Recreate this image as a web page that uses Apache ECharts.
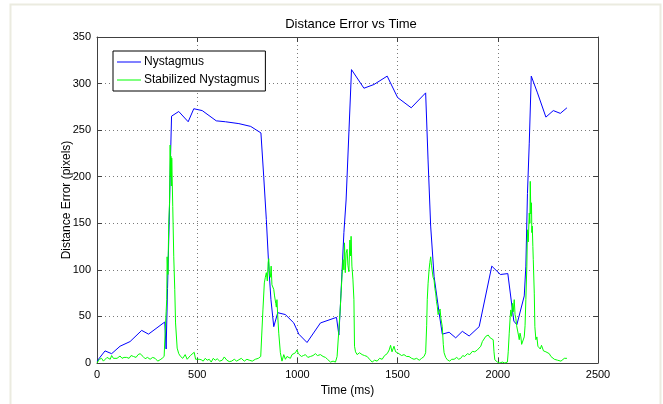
<!DOCTYPE html>
<html>
<head>
<meta charset="utf-8">
<script src="https://cdn.jsdelivr.net/npm/echarts@6/dist/echarts.min.js"></script>
<style>
    html, body { margin: 0; padding: 0; background: #fff; }
    #main { width: 663px; height: 404px; }
</style>
</head>
<body>
<div id="main"></div>
<script>
// 数据部分 [time ms, error px]
var nystagmus = [
    [0, 2], [40, 13], [73, 10], [115, 18], [165, 23], [223, 35], [257, 31], [338, 44], [345, 15], [352, 80],
    [360, 150], [367, 222], [372, 265], [408, 270], [455, 259], [483, 273], [525, 271], [595, 260], [641, 259], [708, 257],
    [767, 254], [818, 247], [832, 200], [845, 154], [857, 104], [868, 68], [882, 39], [890, 37], [902, 54], [940, 52],
    [982, 43], [1007, 31], [1048, 22], [1115, 43], [1195, 49], [1207, 30], [1215, 64], [1232, 140], [1243, 175], [1270, 315],
    [1332, 295], [1382, 299], [1448, 308], [1500, 285], [1568, 274], [1640, 290], [1652, 218], [1665, 147], [1682, 93], [1707, 54],
    [1723, 31], [1757, 33], [1790, 27], [1823, 34], [1857, 29], [1907, 39], [1970, 104], [2013, 95], [2050, 96], [2080, 45],
    [2095, 41], [2132, 72], [2140, 104], [2148, 182], [2157, 236], [2167, 308], [2198, 290], [2240, 264], [2277, 271], [2312, 268],
    [2345, 274]
];

var stabilized = [
    [0, 0], [12, 4], [23, 5], [32, 2], [40, 2], [50, 6], [57, 7], [66, 4], [73, 8], [82, 5],
    [90, 6.5], [100, 5], [115, 7.5], [125, 5], [135, 6], [148, 6], [160, 5], [170, 8], [182, 7], [195, 6],
    [205, 9], [215, 10], [223, 11.5], [230, 7], [240, 4.6], [252, 6], [265, 4], [278, 6], [290, 5], [303, 2],
    [315, 3.5], [325, 5], [335, 7], [340, 32], [345, 55], [348, 68], [350, 114], [354, 95], [358, 150], [362, 172],
    [365, 234], [367, 200], [369, 222], [371, 190], [373, 220], [375, 200], [378, 168], [383, 114], [388, 79], [392, 43],
    [400, 16], [408, 10], [417, 7], [428, 5], [440, 9], [450, 4], [458, 5], [466, 8], [475, 10], [485, 11.5],
    [492, 4], [500, 2], [510, 4], [520, 3.5], [530, 2], [540, 5], [550, 3], [560, 4], [570, 1], [580, 5],
    [590, 3], [600, 4.5], [612, 2], [625, 3], [635, 6.5], [648, 3], [660, 1.5], [672, 2], [685, 4], [697, 2],
    [708, 3.5], [720, 5], [735, 2], [748, 4], [760, 3], [775, 2], [790, 4], [805, 5], [817, 7], [822, 30],
    [828, 57], [835, 86], [840, 92], [845, 97], [850, 88], [854, 108], [857, 112], [861, 95], [865, 92], [869, 104],
    [873, 84], [877, 86], [882, 79], [886, 72], [892, 64], [895, 60], [898, 68], [902, 50], [907, 32], [915, 11],
    [923, 2], [932, 9], [940, 4], [948, 7], [957, 7], [965, 5], [973, 9], [982, 8], [990, 11], [998, 14],
    [1005, 10], [1012, 11], [1020, 7], [1030, 8], [1040, 9], [1052, 6], [1065, 7], [1078, 8], [1090, 10], [1100, 8],
    [1115, 9], [1128, 7], [1140, 6], [1150, 4], [1165, 1], [1178, 2], [1190, 1], [1198, 7], [1207, 36], [1213, 55],
    [1218, 75], [1223, 95], [1228, 111], [1232, 100], [1235, 129], [1239, 97], [1243, 118], [1248, 122], [1252, 105], [1257, 98],
    [1262, 132], [1265, 115], [1268, 136], [1272, 104], [1277, 90], [1282, 68], [1285, 18], [1290, 12], [1298, 9], [1310, 11],
    [1323, 9], [1335, 8], [1348, 7], [1360, 4], [1373, 1], [1385, 3], [1398, 2], [1410, 5], [1423, 4], [1435, 8],
    [1448, 10], [1458, 14], [1465, 19], [1472, 12], [1482, 18], [1490, 12], [1500, 11], [1507, 10], [1520, 8], [1532, 9],
    [1545, 7], [1557, 7], [1570, 5], [1582, 4], [1595, 5], [1608, 3], [1620, 5], [1632, 7], [1640, 11], [1645, 40],
    [1648, 68], [1652, 85], [1657, 100], [1661, 108], [1665, 114], [1669, 105], [1673, 104], [1677, 92], [1682, 89], [1686, 80],
    [1690, 75], [1694, 66], [1698, 61], [1702, 52], [1707, 50], [1712, 58], [1716, 48], [1723, 39], [1728, 20], [1732, 11],
    [1740, 6], [1748, 3.5], [1760, 2], [1770, 4], [1782, 4], [1795, 6], [1805, 4], [1815, 5], [1825, 8], [1835, 7],
    [1848, 10], [1860, 9], [1873, 12.5], [1885, 12], [1898, 14], [1907, 16], [1915, 18], [1923, 23], [1930, 22], [1940, 28.6],
    [1947, 27], [1952, 30], [1957, 32], [1962, 27], [1968, 28], [1977, 25], [1981, 12], [1985, 3.5], [1998, 1], [2010, 0],
    [2023, 1], [2035, 0], [2048, 1], [2052, 12], [2057, 32], [2062, 50], [2065, 57], [2069, 50], [2073, 64], [2077, 55],
    [2082, 68], [2086, 52], [2090, 48], [2094, 40], [2098, 41], [2103, 30], [2107, 25], [2111, 32], [2115, 28], [2119, 20],
    [2123, 22], [2128, 18], [2132, 28], [2136, 40], [2140, 68], [2145, 104], [2148, 143], [2152, 130], [2157, 161], [2160, 150],
    [2162, 195], [2165, 160], [2168, 172], [2170, 140], [2172, 147], [2175, 125], [2177, 111], [2182, 75], [2185, 39], [2190, 25],
    [2195, 28], [2200, 18], [2207, 20], [2212, 15], [2218, 19], [2223, 18], [2228, 13], [2235, 15], [2240, 12], [2248, 11],
    [2257, 10], [2265, 7], [2273, 5], [2282, 4], [2290, 2], [2298, 3], [2307, 3.5], [2315, 2], [2323, 3], [2332, 5],
    [2340, 4], [2345, 5]
];

var seriesNames = ['Nystagmus', 'Stabilized Nystagmus'];
var xMin = 0, xMax = 2500, xStep = 500;
var yMin = 0, yMax = 350, yStep = 50;

(function () {
    var myChart = echarts.init(document.getElementById('main'));
    var font = 'Liberation Sans, Arial, sans-serif';

    // 坐标轴公共样式
    function frameAxis(pos, showLabel, grid) {
        return {
            type: 'value',
            position: pos,
            axisLine: { show: true, onZero: false, lineStyle: { color: '#404040', width: 1 } },
            axisTick: { show: true, inside: true, length: 5, lineStyle: { color: '#404040' } },
            axisLabel: {
                show: showLabel, color: '#000', fontSize: 11, fontFamily: font, margin: 6,
                formatter: function (v) { return String(v); }
            },
            splitLine: { show: grid, lineStyle: { color: '#7a7a7a', type: [1, 3], width: 1 } }
        };
    }

    var xBottom = frameAxis('bottom', true, true);
    xBottom.min = xMin; xBottom.max = xMax; xBottom.interval = xStep;
    xBottom.name = 'Time (ms)';
    xBottom.nameLocation = 'middle';
    xBottom.nameGap = 19;
    xBottom.nameTextStyle = { color: '#000', fontSize: 12, fontFamily: font };
    var xTop = frameAxis('top', false, false);
    xTop.min = xMin; xTop.max = xMax; xTop.interval = xStep;

    var yLeft = frameAxis('left', true, true);
    yLeft.min = yMin; yLeft.max = yMax; yLeft.interval = yStep;
    yLeft.name = 'Distance Error (pixels)';
    yLeft.nameLocation = 'middle';
    yLeft.nameGap = 24;
    yLeft.nameMoveOverlap = false;
    yLeft.nameTextStyle = { color: '#000', fontSize: 12, fontFamily: font };
    var yRight = frameAxis('right', false, false);
    yRight.min = yMin; yRight.max = yMax; yRight.interval = yStep;

    var option = {
        backgroundColor: '#fff',
        animation: false,
        title: {
            text: 'Distance Error vs Time',
            left: 346,
            textAlign: 'center',
            top: 13,
            textStyle: { color: '#000', fontSize: 13, fontWeight: 'normal', fontFamily: font }
        },
        legend: {
            data: seriesNames,
            orient: 'vertical',
            left: 113,
            top: 51,
            padding: [5, 6, 5, 4],
            itemGap: 6,
            itemWidth: 24,
            itemHeight: 1,
            icon: 'rect',
            borderColor: '#000',
            borderWidth: 1,
            backgroundColor: '#fff',
            textStyle: { color: '#000', fontSize: 12, fontFamily: font, padding: [0, 0, 0, -2] }
        },
        grid: { left: 97, right: 65, top: 37, bottom: 41 },
        xAxis: [xBottom, xTop],
        yAxis: [yLeft, yRight],
        graphic: [{
            type: 'rect',
            shape: { x: 10.5, y: 4.5, width: 650, height: 402 },
            style: { fill: null, stroke: '#ebebe0', lineWidth: 2 },
            silent: true
        }],
        series: [
            {
                name: seriesNames[0],
                type: 'line',
                data: nystagmus,
                showSymbol: false,
                color: '#0000ff',
                lineStyle: { width: 1 }
            },
            {
                name: seriesNames[1],
                type: 'line',
                data: stabilized,
                showSymbol: false,
                color: '#00ff00',
                lineStyle: { width: 1 }
            }
        ]
    };

    myChart.setOption(option);

    window.addEventListener('resize', function () {
        myChart.resize();
    });
})();
</script>
</body>
</html>
